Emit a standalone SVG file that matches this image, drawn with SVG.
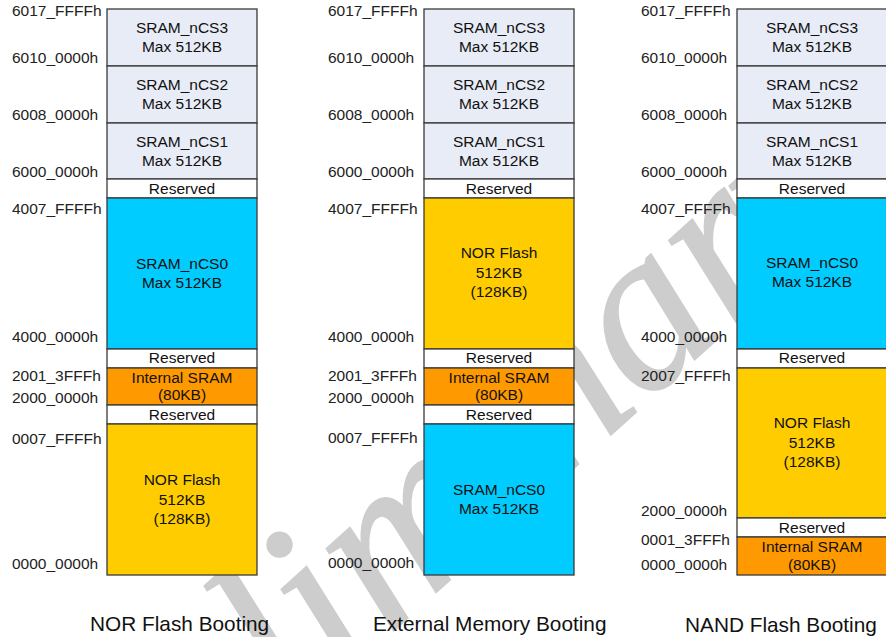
<svg xmlns="http://www.w3.org/2000/svg" width="886" height="637" viewBox="0 0 886 637">
<style>
.bx{stroke:#3a3a3a;stroke-width:1.3}
.lav{fill:#e8ecf6}.res{fill:#ffffff}.cy{fill:#00ccff}.yl{fill:#ffcc00}.or{fill:#ff9900}
.t{font-family:"Liberation Sans",Arial,sans-serif;font-size:15.5px;fill:#111;text-anchor:middle}
.a{font-family:"Liberation Sans",Arial,sans-serif;font-size:15.5px;fill:#222}
.ti{font-family:"Liberation Sans",Arial,sans-serif;font-size:20.8px;fill:#111}
.wm{font-family:"Liberation Serif","Times New Roman",serif;font-style:italic;font-size:230px;fill:#cdcdcd;stroke:#cdcdcd;stroke-width:2}
</style>
<rect width="886" height="637" fill="#ffffff"/>
<g id="watermark"><text class="wm" transform="translate(52,938) rotate(-42)">Preliminary</text></g>

<g id="col1">
<g id="c1-addr">
<text class="a" x="12" y="16">6017_FFFFh</text>
<text class="a" x="12" y="63">6010_0000h</text>
<text class="a" x="12" y="120">6008_0000h</text>
<text class="a" x="12" y="177">6000_0000h</text>
<text class="a" x="12" y="214">4007_FFFFh</text>
<text class="a" x="12" y="342">4000_0000h</text>
<text class="a" x="12" y="381">2001_3FFFh</text>
<text class="a" x="12" y="403">2000_0000h</text>
<text class="a" x="12" y="444">0007_FFFFh</text>
<text class="a" x="12" y="569">0000_0000h</text>
</g>
<g id="c1-ncs3"><rect class="bx lav" x="107" y="9" width="150" height="57"/><text class="t" x="182" y="33">SRAM_nCS3</text><text class="t" x="182" y="52">Max 512KB</text></g>
<g id="c1-ncs2"><rect class="bx lav" x="107" y="66" width="150" height="57"/><text class="t" x="182" y="90">SRAM_nCS2</text><text class="t" x="182" y="109">Max 512KB</text></g>
<g id="c1-ncs1"><rect class="bx lav" x="107" y="123" width="150" height="56"/><text class="t" x="182" y="147">SRAM_nCS1</text><text class="t" x="182" y="166">Max 512KB</text></g>
<g id="c1-res1"><rect class="bx res" x="107" y="179" width="150" height="19"/><text class="t" x="182" y="194">Reserved</text></g>
<g id="c1-ncs0"><rect class="bx cy" x="107" y="198" width="150" height="151"/><text class="t" x="182" y="269">SRAM_nCS0</text><text class="t" x="182" y="288">Max 512KB</text></g>
<g id="c1-res2"><rect class="bx res" x="107" y="349" width="150" height="19"/><text class="t" x="182" y="363">Reserved</text></g>
<g id="c1-isram"><rect class="bx or" x="107" y="368" width="150" height="37"/><text class="t" x="182" y="383">Internal SRAM</text><text class="t" x="182" y="400">(80KB)</text></g>
<g id="c1-res3"><rect class="bx res" x="107" y="405" width="150" height="19"/><text class="t" x="182" y="420">Reserved</text></g>
<g id="c1-nor"><rect class="bx yl" x="107" y="424" width="150" height="151"/><text class="t" x="182" y="485">NOR Flash</text><text class="t" x="182" y="505">512KB</text><text class="t" x="182" y="524">(128KB)</text></g>
<text class="ti" x="90" y="631">NOR Flash Booting</text>
</g>

<g id="col2">
<g id="c2-addr">
<text class="a" x="328" y="16">6017_FFFFh</text>
<text class="a" x="328" y="63">6010_0000h</text>
<text class="a" x="328" y="120">6008_0000h</text>
<text class="a" x="328" y="177">6000_0000h</text>
<text class="a" x="328" y="214">4007_FFFFh</text>
<text class="a" x="328" y="342">4000_0000h</text>
<text class="a" x="328" y="381">2001_3FFFh</text>
<text class="a" x="328" y="403">2000_0000h</text>
<text class="a" x="328" y="443">0007_FFFFh</text>
<text class="a" x="328" y="568">0000_0000h</text>
</g>
<g id="c2-ncs3"><rect class="bx lav" x="424" y="9" width="150" height="57"/><text class="t" x="499" y="33">SRAM_nCS3</text><text class="t" x="499" y="52">Max 512KB</text></g>
<g id="c2-ncs2"><rect class="bx lav" x="424" y="66" width="150" height="57"/><text class="t" x="499" y="90">SRAM_nCS2</text><text class="t" x="499" y="109">Max 512KB</text></g>
<g id="c2-ncs1"><rect class="bx lav" x="424" y="123" width="150" height="56"/><text class="t" x="499" y="147">SRAM_nCS1</text><text class="t" x="499" y="166">Max 512KB</text></g>
<g id="c2-res1"><rect class="bx res" x="424" y="179" width="150" height="19"/><text class="t" x="499" y="194">Reserved</text></g>
<g id="c2-nor"><rect class="bx yl" x="424" y="198" width="150" height="151"/><text class="t" x="499" y="258">NOR Flash</text><text class="t" x="499" y="278">512KB</text><text class="t" x="499" y="297">(128KB)</text></g>
<g id="c2-res2"><rect class="bx res" x="424" y="349" width="150" height="19"/><text class="t" x="499" y="363">Reserved</text></g>
<g id="c2-isram"><rect class="bx or" x="424" y="368" width="150" height="37"/><text class="t" x="499" y="383">Internal SRAM</text><text class="t" x="499" y="400">(80KB)</text></g>
<g id="c2-res3"><rect class="bx res" x="424" y="405" width="150" height="19"/><text class="t" x="499" y="420">Reserved</text></g>
<g id="c2-ncs0"><rect class="bx cy" x="424" y="424" width="150" height="151"/><text class="t" x="499" y="495">SRAM_nCS0</text><text class="t" x="499" y="514">Max 512KB</text></g>
<text class="ti" x="373" y="631">External Memory Booting</text>
</g>

<g id="col3">
<g id="c3-addr">
<text class="a" x="641" y="16">6017_FFFFh</text>
<text class="a" x="641" y="63">6010_0000h</text>
<text class="a" x="641" y="120">6008_0000h</text>
<text class="a" x="641" y="177">6000_0000h</text>
<text class="a" x="641" y="214">4007_FFFFh</text>
<text class="a" x="641" y="342">4000_0000h</text>
<text class="a" x="641" y="381">2007_FFFFh</text>
<text class="a" x="641" y="516">2000_0000h</text>
<text class="a" x="641" y="545">0001_3FFFh</text>
<text class="a" x="641" y="570">0000_0000h</text>
</g>
<g id="c3-ncs3"><rect class="bx lav" x="737" y="9" width="150" height="57"/><text class="t" x="812" y="33">SRAM_nCS3</text><text class="t" x="812" y="52">Max 512KB</text></g>
<g id="c3-ncs2"><rect class="bx lav" x="737" y="66" width="150" height="57"/><text class="t" x="812" y="90">SRAM_nCS2</text><text class="t" x="812" y="109">Max 512KB</text></g>
<g id="c3-ncs1"><rect class="bx lav" x="737" y="123" width="150" height="56"/><text class="t" x="812" y="147">SRAM_nCS1</text><text class="t" x="812" y="166">Max 512KB</text></g>
<g id="c3-res1"><rect class="bx res" x="737" y="179" width="150" height="19"/><text class="t" x="812" y="194">Reserved</text></g>
<g id="c3-ncs0"><rect class="bx cy" x="737" y="198" width="150" height="151"/><text class="t" x="812" y="268">SRAM_nCS0</text><text class="t" x="812" y="287">Max 512KB</text></g>
<g id="c3-res2"><rect class="bx res" x="737" y="349" width="150" height="19"/><text class="t" x="812" y="363">Reserved</text></g>
<g id="c3-nor"><rect class="bx yl" x="737" y="368" width="150" height="150"/><text class="t" x="812" y="428">NOR Flash</text><text class="t" x="812" y="448">512KB</text><text class="t" x="812" y="467">(128KB)</text></g>
<g id="c3-res3"><rect class="bx res" x="737" y="518" width="150" height="19"/><text class="t" x="812" y="533">Reserved</text></g>
<g id="c3-isram"><rect class="bx or" x="737" y="537" width="150" height="38"/><text class="t" x="812" y="552">Internal SRAM</text><text class="t" x="812" y="570">(80KB)</text></g>
<text class="ti" x="685" y="632">NAND Flash Booting</text>
</g>
</svg>
